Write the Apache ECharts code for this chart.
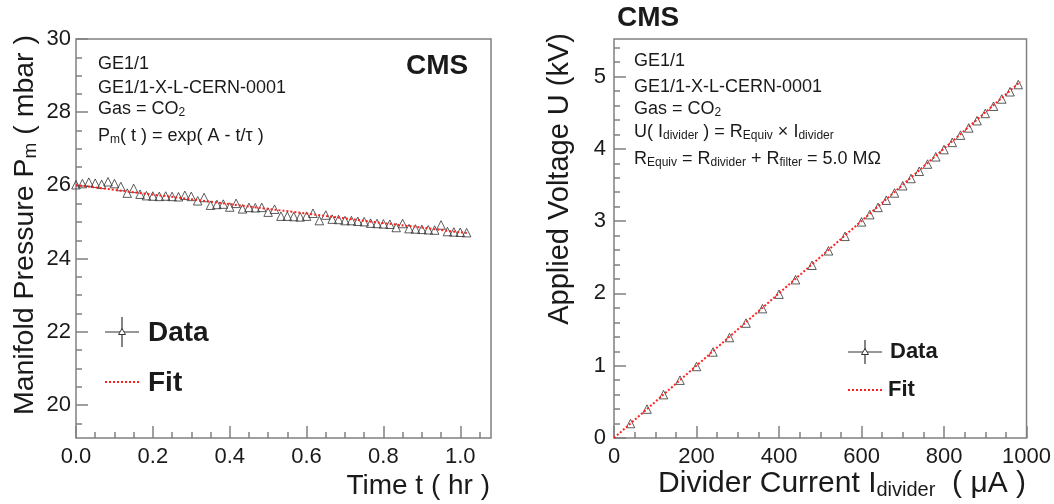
<!DOCTYPE html>
<html><head><meta charset="utf-8">
<script src="https://cdn.jsdelivr.net/npm/echarts@6/dist/echarts.min.js"></script>
<style>html,body{margin:0;padding:0;background:#fff}#c{width:1054px;height:504px}</style>
</head><body><div id="c"></div>
<script>
// ---------- Left panel data: manifold pressure vs time ----------
const timeMinutes = [0,1,2,3,4,5,6,7,8,9,10,11,12,13,14,15,16,17,18,19,20,21,22,23,24,25,26,27,28,29,30,31,32,33,34,35,36,37,38,39,40,41,42,43,44,45,46,47,48,49,50,51,52,53,54,55,56,57,58,59,60,61];
const pressure = [26.02,26.05,26.09,26.06,26.03,26.10,26.05,25.97,25.79,25.92,25.76,25.72,25.71,25.70,25.71,25.70,25.69,25.73,25.70,25.58,25.67,25.46,25.48,25.49,25.41,25.51,25.36,25.40,25.39,25.40,25.27,25.35,25.16,25.16,25.15,25.14,25.16,25.24,25.04,25.19,25.08,25.07,25.04,25.04,25.02,25.01,24.97,24.96,24.95,24.94,24.85,24.96,24.82,24.81,24.80,24.79,24.78,24.92,24.74,24.73,24.72,24.71];
const fitTime = [0,0.1,0.2,0.3,0.4,0.5,0.6,0.7,0.8,0.9,1.0,1.017];
const fitPressure = [26.01,25.88,25.75,25.62,25.49,25.36,25.23,25.10,24.97,24.85,24.72,24.70];
const timeTicks = [0,0.2,0.4,0.6,0.8,1.0];
const pressureTicks = [20,22,24,26,28,30];

// ---------- Right panel data: applied voltage vs divider current ----------
const current = [40,80,120,160,200,240,280,320,360,400,440,480,520,560,600,620,640,660,680,700,720,740,760,780,800,820,840,860,880,900,920,940,960,980];
const voltage = [0.20,0.40,0.60,0.80,0.99,1.19,1.39,1.59,1.79,1.99,2.19,2.39,2.59,2.79,2.99,3.09,3.19,3.29,3.39,3.49,3.59,3.69,3.79,3.89,3.99,4.09,4.19,4.29,4.39,4.49,4.59,4.69,4.79,4.89];
const fitCurrent = [0,985];
const fitVoltage = [0,4.93];
const currentTicks = [0,200,400,600,800,1000];
const voltageTicks = [0,1,2,3,4,5];

const FONT = 'Liberation Sans, Arial, Helvetica, sans-serif';
const FRAME = '#808080';
const TXT = '#1a1a1a';

function range(a, b, step) { const r = []; for (let v = a; v <= b + 1e-9; v += step) r.push(+v.toFixed(4)); return r; }

function mainAxis(grid, min, max, ticks, pos, fmt, margin) {
  return {
    type: 'value', gridIndex: grid, min: min, max: max, position: pos,
    axisLine: { show: false }, splitLine: { show: false },
    axisTick: { show: true, inside: true, length: 12, customValues: ticks, lineStyle: { color: FRAME, width: 1.5 } },
    axisLabel: { show: true, customValues: ticks, formatter: fmt, margin: margin, fontSize: 22, fontFamily: FONT, color: TXT }
  };
}
function minorAxis(grid, min, max, ticks, pos) {
  return {
    type: 'value', gridIndex: grid, min: min, max: max, position: pos,
    axisLine: { show: false }, splitLine: { show: false },
    axisTick: { show: true, inside: true, length: 6, customValues: ticks, lineStyle: { color: FRAME, width: 1.5 } },
    axisLabel: { show: false }
  };
}

const subStyle = (fs) => ({ fontSize: Math.round(fs * 0.65), lineHeight: Math.round(fs * 0.45), verticalAlign: 'bottom', fontFamily: FONT, fill: TXT });
function txt(x, y, text, fs, extra) {
  const e = extra || {};
  return {
    type: 'text', x: x, y: y, rotation: e.rotation || 0, z: 100,
    style: {
      text: text, fontSize: fs, fontFamily: FONT, fontWeight: e.bold ? 'bold' : 'normal', fill: TXT,
      lineHeight: Math.round(fs * 1.1),
      align: e.align || 'left', verticalAlign: 'middle',
      textAlign: e.align || 'left', textVerticalAlign: 'middle',
      rich: { sub: subStyle(fs) }
    }
  };
}
function dataLegendIcon(cx, cy, halfW, halfH) {
  return [
    { type: 'line', z: 100, shape: { x1: cx - halfW, y1: cy, x2: cx + halfW, y2: cy }, style: { stroke: '#333', lineWidth: 1.2 } },
    { type: 'line', z: 100, shape: { x1: cx, y1: cy - halfH, x2: cx, y2: cy + halfH }, style: { stroke: '#333', lineWidth: 1.2 } },
    { type: 'polygon', z: 101, shape: { points: [[cx, cy - 3.5], [cx - 3.5, cy + 2.5], [cx + 3.5, cy + 2.5]] }, style: { fill: '#fff', stroke: '#333', lineWidth: 1 } }
  ];
}
function fitLegendIcon(x1, x2, y) {
  return { type: 'line', z: 100, shape: { x1: x1, y1: y, x2: x2, y2: y }, style: { stroke: '#ff2020', lineWidth: 2, lineDash: [2, 2] } };
}

const pressureData = timeMinutes.map((m, i) => [m / 60, pressure[i]]);
const fitPData = fitTime.map((t, i) => [t, fitPressure[i]]);
const voltageData = current.map((c, i) => [c, voltage[i]]);
const fitUData = fitCurrent.map((c, i) => [c, fitVoltage[i]]);

const chart = echarts.init(document.getElementById('c'), null, { renderer: 'canvas' });
chart.setOption({
  animation: false,
  backgroundColor: '#ffffff',
  grid: [
    { left: 76, top: 39, width: 415, height: 399, show: true, borderColor: FRAME, borderWidth: 1.5, backgroundColor: 'transparent', containLabel: false },
    { left: 614, top: 39, width: 413, height: 399, show: true, borderColor: FRAME, borderWidth: 1.5, backgroundColor: 'transparent', containLabel: false }
  ],
  xAxis: [
    mainAxis(0, 0, 1.08, timeTicks, 'bottom', v => v.toFixed(1), 8),
    minorAxis(0, 0, 1.08, range(0, 1.05, 0.05), 'bottom'),
    mainAxis(1, 0, 1000, currentTicks, 'bottom', v => String(v), 8),
    minorAxis(1, 0, 1000, range(0, 1000, 50), 'bottom')
  ],
  yAxis: [
    mainAxis(0, 19.1, 30, pressureTicks, 'left', v => String(v), 5),
    minorAxis(0, 19.1, 30, range(19.5, 30, 0.5), 'left'),
    mainAxis(1, 0, 5.52, voltageTicks, 'left', v => String(v), 8),
    minorAxis(1, 0, 5.52, range(0, 5.4, 0.2), 'left')
  ],
  series: [
    { type: 'scatter', name: 'Data', xAxisIndex: 0, yAxisIndex: 0, data: pressureData, symbol: 'triangle', symbolSize: 8.5,
      itemStyle: { color: 'rgba(255,255,255,0)', borderColor: '#333', borderWidth: 1 }, z: 3 },
    { type: 'line', name: 'Fit', xAxisIndex: 0, yAxisIndex: 0, data: fitPData, showSymbol: false, smooth: false,
      lineStyle: { color: '#ff2020', width: 2, type: [2, 2] }, z: 4 },
    { type: 'scatter', name: 'Data', xAxisIndex: 2, yAxisIndex: 2, data: voltageData, symbol: 'triangle', symbolSize: 8.5,
      itemStyle: { color: 'rgba(255,255,255,0)', borderColor: '#333', borderWidth: 1 }, z: 3 },
    { type: 'line', name: 'Fit', xAxisIndex: 2, yAxisIndex: 2, data: fitUData, showSymbol: false,
      lineStyle: { color: '#ff2020', width: 2, type: [2, 2] }, z: 4 }
  ],
  graphic: { elements: [
    // Left panel annotations
    txt(98, 64, 'GE1/1', 18),
    txt(98, 88, 'GE1/1-X-L-CERN-0001', 18),
    txt(98, 109, 'Gas = CO{sub|2}', 18),
    txt(98, 136, 'P{sub|m}( t ) = exp( A - t/τ )', 18),
    txt(406, 66, 'CMS', 28, { bold: true }),
    ...dataLegendIcon(122, 332, 17, 15),
    txt(148, 333, 'Data', 28, { bold: true }),
    fitLegendIcon(105, 140, 382),
    txt(148, 383, 'Fit', 28, { bold: true }),
    txt(490, 486, 'Time t ( hr )', 28, { align: 'right' }),
    txt(25, 35, 'Manifold Pressure P{sub|m} ( mbar )', 28.5, { align: 'right', rotation: Math.PI / 2 }),
    // Right panel annotations
    txt(617, 18, 'CMS', 28, { bold: true }),
    txt(634, 61, 'GE1/1', 18),
    txt(634, 87, 'GE1/1-X-L-CERN-0001', 18),
    txt(634, 109, 'Gas = CO{sub|2}', 18),
    txt(634, 132, 'U( I{sub|divider} ) = R{sub|Equiv} × I{sub|divider}', 18),
    txt(634, 159, 'R{sub|Equiv} = R{sub|divider} + R{sub|filter} = 5.0 MΩ', 18),
    ...dataLegendIcon(865, 352, 17, 12),
    txt(890, 352, 'Data', 22, { bold: true }),
    fitLegendIcon(848, 882, 390),
    txt(888, 390, 'Fit', 22, { bold: true }),
    txt(1026, 484, 'Divider Current I{sub|divider}  ( μA )', 30, { align: 'right' }),
    txt(560, 33, 'Applied Voltage U (kV)', 29, { align: 'right', rotation: Math.PI / 2 })
  ] }
});
</script>
</body></html>
